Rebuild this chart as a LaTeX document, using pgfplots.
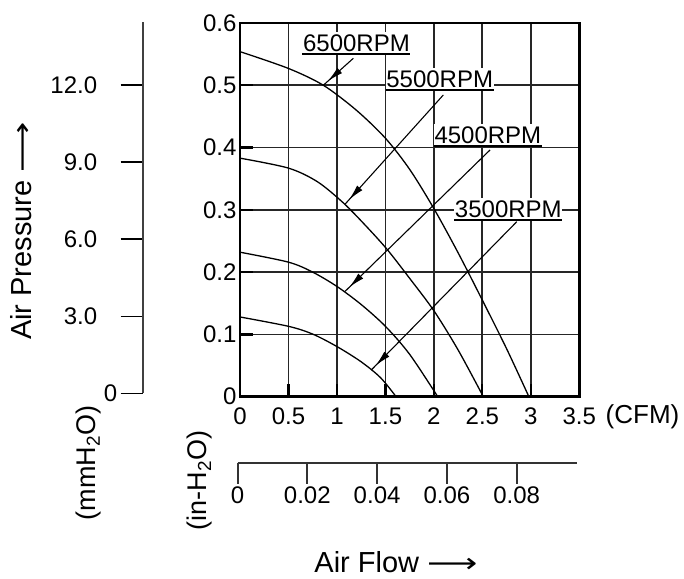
\documentclass[border=0pt]{standalone}
\usepackage{fontspec}
\setmainfont{Liberation Sans}
\newfontfamily\arrowfont{DejaVu Sans}
\usepackage{graphicx}
\usepackage{pgfplots}
\pgfplotsset{compat=1.18}
\usetikzlibrary{arrows.meta,decorations.markings}

\tikzset{
    rpm/.style     = {fill=white, inner xsep=0.5pt, inner ysep=2.5pt, anchor=south,
                      font=\fontsize{24}{24}\selectfont},
    uline/.style   = {line width=1.7pt},
    pointer/.style = {line width=1.1pt, postaction={decorate},
                      decoration={markings, mark=at position -6pt with {\arrow{Latex[length=16pt,width=7pt]}}}},
    title/.style   = {font=\fontsize{29}{29}\selectfont, inner sep=0pt},
    unit/.style    = {font=\fontsize{27}{27}\selectfont, inner sep=0pt}
}
\newcommand{\longarr}{{\arrowfont\fontsize{27}{27}\selectfont\scalebox{1.3}[1]{⟶}}}

\pgfplotsset{
    every tick label/.append style={font=\fontsize{24}{24}\selectfont},
}

\begin{document}
\begin{tikzpicture}
    \path[use as bounding box] (0pt,0pt) rectangle (684pt,578pt);

    % pressure in mmH2O
    \begin{axis}[
        at={(142.7pt,184.7pt)}, anchor=south west,
        scale only axis, width=20pt, height=371.3pt,
        xmin=0, xmax=1, ymin=0, ymax=14.46,
        enlargelimits=false,
        hide x axis,
        axis y line=left,
        axis line style={-, line width=2pt, black!75},
        ytick={0,3,6,9,12},
        yticklabels={0,{3.0\kern20pt},{6.0\kern20pt},{9.0\kern20pt},{12.0\kern20pt}},
        tick align=outside,
        major tick length=22pt,
        tick style={line width=1.5pt, black},
    ]
    \end{axis}

    % flow in the second unit
    \begin{axis}[
        at={(237.5pt,115.3pt)}, anchor=south west,
        scale only axis, width=339.2pt, height=20pt,
        xmin=0, xmax=0.0972, ymin=0, ymax=1,
        enlargelimits=false,
        scaled x ticks=false,
        hide y axis,
        axis x line=bottom,
        axis line style={-, line width=2pt, black!80},
        xtick={0,0.02,0.04,0.06,0.08},
        xticklabels={0,0.02,0.04,0.06,0.08},
        tick align=outside,
        major tick length=21pt,
        tick style={line width=2pt, black!80},
    ]
    \end{axis}

    % main chart
    \begin{axis}[
        at={(240pt,181.3pt)}, anchor=south west,
        scale only axis, width=339.3pt, height=373.7pt,
        xmin=0, xmax=3.5, ymin=0, ymax=0.6,
        xtick={0,0.5,1,1.5,2,2.5,3,3.5},
        xticklabels={0,0.5,1,1.5,2,2.5,3,3.5},
        ytick={0,0.1,0.2,0.3,0.4,0.5,0.6},
        yticklabels={0,0.1,0.2,0.3,0.4,0.5,0.6},
        xticklabel style={yshift=-8pt},
        grid=major,
        major grid style={line width=1.8pt, black!85},
        axis line style={line width=2.5pt},
        tick align=inside, tick pos=left,
        major tick length=13pt,
        tick style={line width=2.2pt, black},
        clip=false,
    ]
        % 6500 RPM
        \addplot[black, line width=1.3pt, smooth] coordinates {
            (0,0.554) (0.5,0.527) (0.86,0.5) (1.2,0.46) (1.5,0.415) (1.75,0.365)
            (2.0,0.302) (2.25,0.231) (2.5,0.155) (2.75,0.077) (2.98,0)};
        % 5500 RPM
        \addplot[black, line width=1.3pt, smooth] coordinates {
            (0,0.383) (0.5,0.367) (0.8,0.345) (1.067,0.311) (1.3,0.274) (1.52,0.236)
            (1.75,0.190) (2.0,0.138) (2.25,0.075) (2.51,0)};
        % 4500 RPM
        \addplot[black, line width=1.3pt, smooth] coordinates {
            (0,0.232) (0.5,0.216) (0.75,0.2) (1.0,0.177) (1.25,0.148) (1.5,0.113)
            (1.75,0.068) (2.04,0)};
        % 3500 RPM
        \addplot[black, line width=1.3pt, smooth] coordinates {
            (0,0.128) (0.5,0.113) (0.75,0.1005) (1.0,0.0805) (1.25,0.056)
            (1.45,0.0305) (1.61,0)};

        \draw[pointer] (axis cs:1.169,0.5433) -- (axis cs:0.859,0.5);
        \draw[pointer] (axis cs:2.097,0.4844) -- (axis cs:1.083,0.309);
        \draw[pointer] (axis cs:2.579,0.3961) -- (axis cs:1.083,0.169);
        \draw[pointer] (axis cs:2.855,0.2810) -- (axis cs:1.355,0.043);

        \node[rpm] (r65) at (axis cs:1.201,0.550) {6500RPM};
        \draw[uline] (r65.south west) -- (r65.south east);
        \node[rpm] (r55) at (axis cs:2.060,0.4925) {5500RPM};
        \draw[uline] (r55.south west) -- (r55.south east);
        \node[rpm] (r45) at (axis cs:2.557,0.4025) {4500RPM};
        \draw[uline] (r45.south west) -- (r45.south east);
        \node[rpm] (r35) at (axis cs:2.768,0.2837) {3500RPM};
        \draw[uline] (r35.south west) -- (r35.south east);

        \node[font=\fontsize{26}{26}\selectfont, inner sep=0pt]
            at (axis description cs:1,0) [xshift=63.2pt, yshift=-20pt] {(CFM)};
    \end{axis}

    \node[title, rotate=90] at (21.5pt,347pt) {Air Pressure \longarr};
    \node[unit, rotate=90] at (88.3pt,115pt) {(mmH\textsubscript{2}O)};
    \node[unit, rotate=90] at (199.5pt,97.5pt) {(in-H\textsubscript{2}O)};
    \node[title] at (396pt,16pt) {Air Flow \longarr};
\end{tikzpicture}
\end{document}
